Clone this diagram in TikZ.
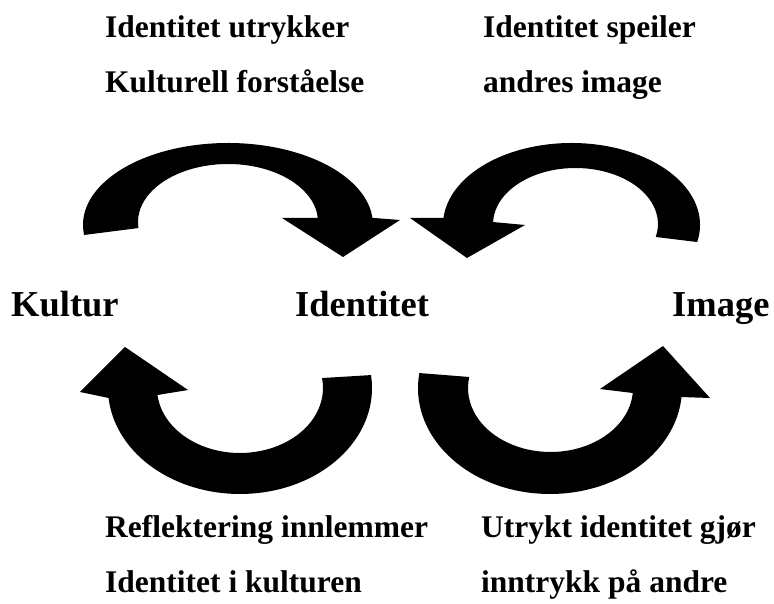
\documentclass[tikz,border=0pt]{standalone}
\usepackage{fontspec}
\setmainfont{Liberation Serif}
\begin{document}
\begin{tikzpicture}[x=1pt,y=1pt,
  caption/.style={anchor=base west, inner sep=0pt,
    font=\fontsize{31.5}{36}\bfseries\selectfont},
  term/.style={anchor=base west, inner sep=0pt,
    font=\fontsize{36.5}{42}\bfseries\selectfont},
  curlarrow/.style={fill=black}]
\useasboundingbox (0,0) rectangle (774,604);

% captions above the arrows
\node[caption] (tl1) at (105,566) {Identitet utrykker};
\node[caption] (tl2) at (105,511) {Kulturell forståelse};
\node[caption] (tr1) at (483,566) {Identitet speiler};
\node[caption] (tr2) at (483,511) {andres image};

% the three terms
\node[term] (kultur) at (11,287) {Kultur};
\node[term] (identitet) at (295,287) {Identitet};
\node[term] (image) at (672,287) {Image};

% captions below the arrows
\node[caption] (bl1) at (105,66) {Reflektering innlemmer};
\node[caption] (bl2) at (105,11) {Identitet i kulturen};
\node[caption] (br1) at (481,66) {Utrykt identitet gjør};
\node[caption] (br2) at (481,11) {inntrykk på andre};

% upper left: Kultur -> Identitet
\fill[curlarrow] ([shift={(187:145pt and 82pt)}]228,379)
  arc[start angle=187, end angle=5, x radius=145pt, y radius=82pt]
  -- (400,384) -- (343,347) -- (282,386)
  -- ([shift={(4:90pt and 58pt)}]228,382)
  arc[start angle=4, end angle=186, x radius=90pt, y radius=58pt]
  -- cycle;

% upper right: Image -> Identitet
\fill[curlarrow] ([shift={(-12:128.5pt and 82pt)}]571.5,379)
  arc[start angle=-12, end angle=175, x radius=128.5pt, y radius=82pt]
  -- (410,386) -- (467,346) -- (525,379)
  -- ([shift={(178:82.5pt and 56pt)}]575.5,380)
  arc[start angle=178, end angle=-13.4, x radius=82.5pt, y radius=56pt]
  -- cycle;

% lower left: Identitet -> Kultur
\fill[curlarrow] ([shift={(7:132pt and 106pt)}]240,216)
  arc[start angle=7, end angle=-174.6, x radius=132pt, y radius=106pt]
  -- (80,212) -- (125,257) -- (188,214)
  -- ([shift={(-173.8:83pt and 65pt)}]240,216)
  arc[start angle=-173.8, end angle=8.8, x radius=83pt, y radius=65pt]
  -- cycle;

% lower right: Identitet -> Image
\fill[curlarrow] ([shift={(171.9:132pt and 106pt)}]550,216)
  arc[start angle=171.9, end angle=355.1, x radius=132pt, y radius=106pt]
  -- (710,206) -- (663,258) -- (600,215)
  -- ([shift={(355.5:82.5pt and 64pt)}]550.5,216)
  arc[start angle=355.5, end angle=170.1, x radius=82.5pt, y radius=64pt]
  -- cycle;
\end{tikzpicture}
\end{document}
